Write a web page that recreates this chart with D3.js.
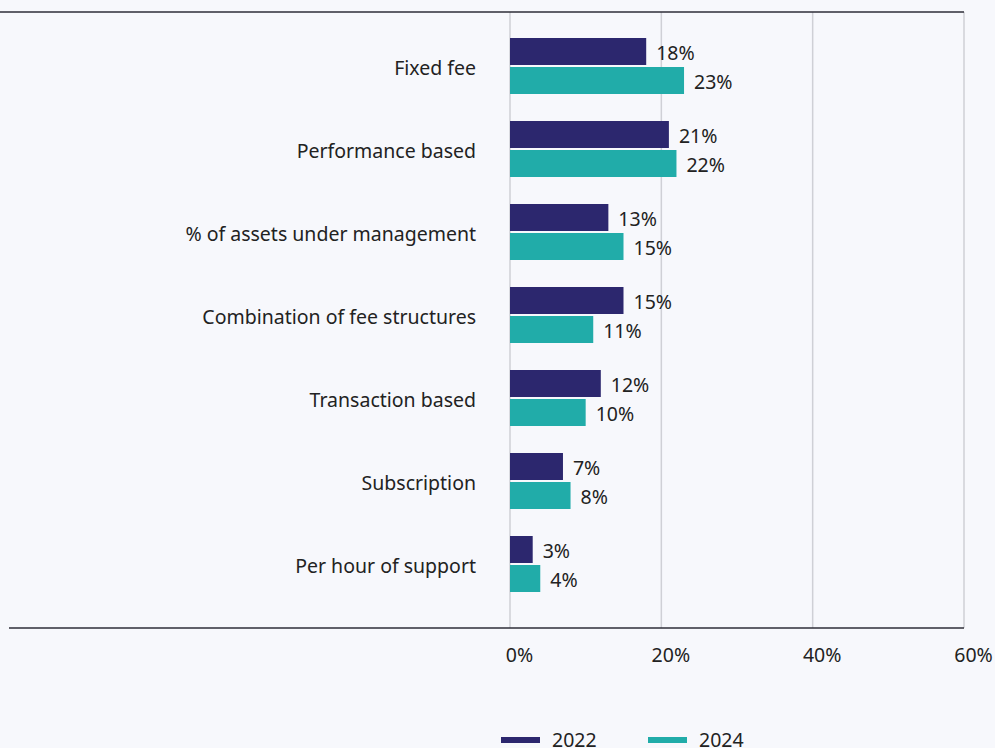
<!DOCTYPE html>
<html>
<head>
<meta charset="utf-8">
<script src="https://cdn.jsdelivr.net/npm/d3@7"></script>
<style>
  html, body { margin: 0; padding: 0; background: #f7f8fc; }
  svg { display: block; font-family: "Noto Sans", sans-serif; }
</style>
</head>
<body>
<svg id="chart" width="995" height="748"></svg>
<script>
// chart data
const categories = ["Fixed fee", "Performance based", "% of assets under management",
  "Combination of fee structures", "Transaction based", "Subscription", "Per hour of support"];
const values2022 = [18, 21, 13, 15, 12, 7, 3];
const values2024 = [23, 22, 15, 11, 10, 8, 4];
const seriesNames = ["2022", "2024"];
const seriesColors = ["#2c276e", "#21aca9"];
const xTicks = [0, 20, 40, 60];

const svg = d3.select("#chart");
const plotTop = 12, plotBottom = 628, plotLeft = 510, plotRight = 964;

const x = d3.scaleLinear().domain([0, 60]).range([plotLeft, plotRight]);
const y = d3.scaleBand().domain(categories).range([24.5, 605.5]);

// grid lines
svg.append("g").selectAll("line")
  .data(xTicks)
  .enter().append("line")
  .attr("x1", d => x(d)).attr("x2", d => x(d))
  .attr("y1", plotTop).attr("y2", plotBottom)
  .attr("stroke", "#cfd0d6").attr("stroke-width", 1.5);

// top + bottom lines
svg.append("line").attr("x1", 0).attr("x2", plotRight).attr("y1", plotTop).attr("y2", plotTop)
  .attr("stroke", "#2e2e38").attr("stroke-width", 1.5);
svg.append("line").attr("x1", 9).attr("x2", plotRight).attr("y1", plotBottom).attr("y2", plotBottom)
  .attr("stroke", "#2e2e38").attr("stroke-width", 1.5);

// x axis
const xAxis = svg.append("g")
  .attr("transform", `translate(0,${plotBottom})`)
  .call(d3.axisBottom(x).tickValues(xTicks).tickFormat(d => d + "%").tickSize(0).tickPadding(20));
xAxis.select(".domain").remove();
xAxis.selectAll("text")
  .attr("dx", 9)
  .attr("font-family", "Noto Sans, sans-serif")
  .attr("font-size", 19.5)
  .attr("fill", "#222");

// y axis labels
const yAxis = svg.append("g")
  .attr("transform", `translate(${plotLeft},0)`)
  .call(d3.axisLeft(y).tickSize(0).tickPadding(34));
yAxis.select(".domain").remove();
yAxis.selectAll("text")
  .attr("dy", "0.45em")
  .attr("font-family", "Noto Sans, sans-serif")
  .attr("font-size", 19.5)
  .attr("fill", "#222");

// bars
const barH = 27, gap = 2;
const series = [values2022, values2024];
series.forEach((vals, si) => {
  const g = svg.append("g");
  const yPos = (d, i) => y(categories[i]) + y.bandwidth() / 2 - barH - gap / 2 + si * (barH + gap);
  g.selectAll("rect")
    .data(vals)
    .enter().append("rect")
    .attr("x", x(0))
    .attr("y", yPos)
    .attr("width", d => x(d) - x(0))
    .attr("height", barH)
    .attr("fill", seriesColors[si]);
  g.selectAll("text")
    .data(vals)
    .enter().append("text")
    .attr("x", d => x(d) + 10)
    .attr("y", (d, i) => yPos(d, i) + barH / 2 + 2)
    .attr("dy", "0.35em")
    .attr("font-size", 19.5)
    .attr("fill", "#222")
    .text(d => d + "%");
});

// legend (sits at the very bottom edge, as in the source)
const legend = svg.append("g").attr("transform", "translate(501,740)");
seriesNames.forEach((name, i) => {
  const lg = legend.append("g").attr("transform", `translate(${i * 147},0)`);
  lg.append("rect").attr("x", 0).attr("y", -3).attr("width", 39).attr("height", 6)
    .attr("fill", seriesColors[i]);
  lg.append("text").attr("x", 51).attr("y", 0).attr("dy", "0.35em")
    .attr("font-size", 19.5).attr("fill", "#222").text(name);
});
</script>
</body>
</html>
